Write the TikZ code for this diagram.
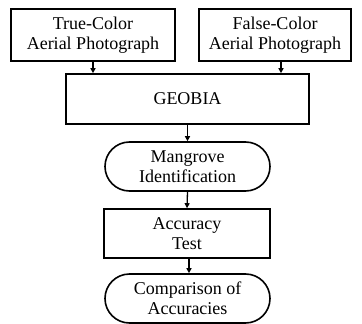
\documentclass[tikz,border=0pt]{standalone}
\usepackage{fontspec}
\setmainfont{Liberation Serif}
\newfontfamily\tms{Liberation Serif}
\usetikzlibrary{shapes.misc,arrows.meta}
\begin{document}
\begin{tikzpicture}[x=1pt,y=-1pt,
  box/.style={draw,line width=1.6pt,rectangle,align=center,inner sep=0pt,font=\tms\fontsize{18}{20}\selectfont},
  stadium/.style={draw,line width=1.6pt,rounded rectangle,rounded rectangle arc length=180,align=center,inner sep=0pt,font=\tms\fontsize{18}{20}\selectfont},
  arr/.style={line width=1.3pt,-{Triangle[length=5pt,width=5pt]}}]
\useasboundingbox (0,0) rectangle (362,324);
\node[box,minimum width=164pt,minimum height=52pt] (tc) at (93,35) {True-Color\\Aerial Photograph};
\node[box,minimum width=152pt,minimum height=52pt] (fc) at (275,35) {False-Color\\Aerial Photograph};
\node[box,minimum width=243pt,minimum height=50pt] (geo) at (187.5,99) {GEOBIA};
\node[stadium,minimum width=165pt,minimum height=49pt] (man) at (187.5,166.5) {Mangrove\\Identification};
\node[box,minimum width=166pt,minimum height=49pt] (acc) at (187,233.5) {Accuracy\\Test};
\node[stadium,minimum width=165pt,minimum height=49pt] (cmp) at (187.5,298.5) {Comparison of\\Accuracies};
\draw[arr] (tc.south) -- (tc.south |- geo.north);
\draw[arr] ([xshift=6pt]fc.south) -- ([xshift=6pt]fc.south |- geo.north);
\draw[arr] (geo.south) -- (man.north);
\draw[arr] (man.south) -- (acc.north);
\draw[arr] ([xshift=2pt]acc.south) -- ([xshift=2pt]acc.south |- cmp.north);
\end{tikzpicture}
\end{document}
